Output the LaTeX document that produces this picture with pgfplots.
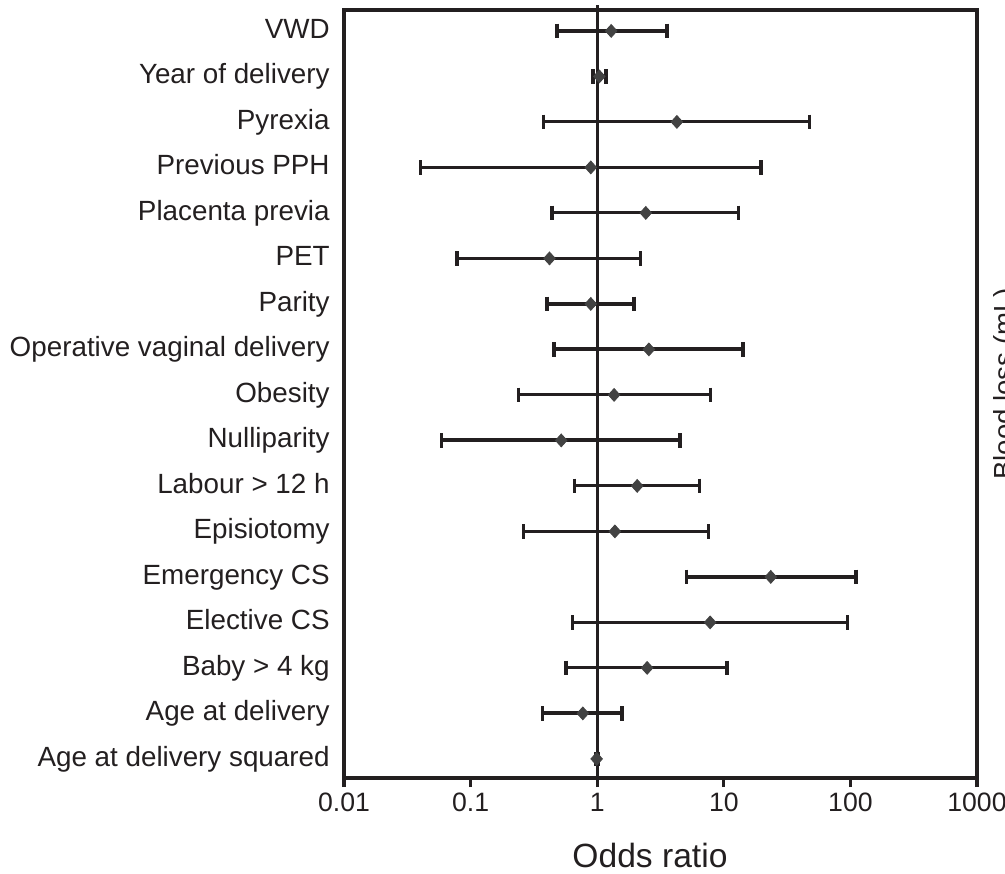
\documentclass[border=0pt]{standalone}
\usepackage{pgfplots}
\pgfplotsset{compat=1.18}
\usepackage{fontspec}
\setmainfont{Liberation Sans}
\definecolor{ink}{HTML}{231F20}
\definecolor{dot}{HTML}{424242}

\pgfplotsset{
  ci/.style={ink, line width=1.45pt, mark=|, mark size=3.6pt,
    mark options={solid, line width=1.6pt}},
  cib/.style={ink, line width=2pt, mark=|, mark size=3.6pt,
    mark options={solid, line width=1.9pt}},
}

\begin{document}
\begin{tikzpicture}
\useasboundingbox (-172pt,-47.5pt) rectangle (330.5pt,389pt);
\begin{axis}[
  scale only axis, width=316.5pt, height=384pt,
  at={(0,0)}, anchor=south west,
  xmode=log, xmin=0.01, xmax=1000,
  ymin=0.58, ymax=17.46,
  xtick={0.01,0.1,1,10,100,1000},
  xticklabels={0.01,0.1,1,10,100,1000},
  xminorticks=false,
  xtick pos=bottom, tick align=outside, major tick length=4.5pt,
  ytick={1,...,17},
  yticklabels={Age at delivery squared, Age at delivery, Baby > 4 kg,
    Elective CS, Emergency CS, Episiotomy, Labour > 12 h, Nulliparity,
    Obesity, Operative vaginal delivery, Parity, PET, Placenta previa,
    Previous PPH, Pyrexia, Year of delivery, VWD},
  ytick style={draw=none},
  yticklabel style={font=\fontsize{13.9}{16}\selectfont, text=ink,
    anchor=base east, inner sep=0pt, xshift=-2.5pt, yshift=-0.36em},
  xticklabel style={font=\fontsize{13.3}{16}\selectfont, text=ink,
    anchor=north, inner sep=0pt, yshift=-3pt},
  axis line style={ink, line width=1.7pt},
  xtick style={ink, line width=1.6pt},
  xlabel={Odds ratio},
  xlabel style={font=\fontsize{16.8}{20}\selectfont, text=ink,
    at={(axis description cs:0.4834,0)}, anchor=base, inner sep=0pt,
    yshift=-44.5pt},
  clip=false,
]
% reference line at an odds ratio of 1
\addplot[ink, line width=1.6pt] coordinates {(1,0.58) (1,17.58)};

% 95% confidence intervals
\addplot[cib] coordinates {(0.48,17) (3.57,17)};   % VWD
\addplot[cib] coordinates {(0.92,16) (1.17,16)};   % Year of delivery
\addplot[ci]  coordinates {(0.374,15) (47.3,15)};  % Pyrexia
\addplot[ci]  coordinates {(0.040,14) (19.7,14)};  % Previous PPH
\addplot[ci]  coordinates {(0.44,13) (13.0,13)};   % Placenta previa
\addplot[ci]  coordinates {(0.078,12) (2.19,12)};  % PET
\addplot[cib] coordinates {(0.40,11) (1.95,11)};   % Parity
\addplot[cib] coordinates {(0.457,10) (14.2,10)};  % Operative vaginal delivery
\addplot[ci]  coordinates {(0.238,9) (7.8,9)};     % Obesity
\addplot[cib] coordinates {(0.059,8) (4.53,8)};    % Nulliparity
\addplot[ci]  coordinates {(0.66,7) (6.47,7)};     % Labour > 12 h
\addplot[ci]  coordinates {(0.26,6) (7.53,6)};     % Episiotomy
\addplot[cib] coordinates {(5.08,5) (110,5)};      % Emergency CS
\addplot[ci]  coordinates {(0.64,4) (94.9,4)};     % Elective CS
\addplot[ci]  coordinates {(0.566,3) (10.6,3)};    % Baby > 4 kg
\addplot[cib] coordinates {(0.37,2) (1.58,2)};     % Age at delivery
\addplot[cib] coordinates {(0.97,1) (1.02,1)};     % Age at delivery squared

% point estimates
\addplot[only marks, mark=diamond*, mark size=3.2pt,
  mark options={draw=dot, fill=dot, xscale=1.2}] coordinates {
  (1.29,17) (1.04,16) (4.26,15) (0.89,14) (2.42,13) (0.42,12)
  (0.89,11) (2.56,10) (1.36,9) (0.52,8) (2.07,7) (1.38,6)
  (23.5,5) (7.8,4) (2.48,3) (0.77,2) (0.99,1)};
\end{axis}
\node[rotate=90, anchor=north, inner sep=0pt, text=ink,
  font=\fontsize{13.8}{16}\selectfont] at (324.5pt,197pt) {Blood loss (mL)};
\end{tikzpicture}
\end{document}
